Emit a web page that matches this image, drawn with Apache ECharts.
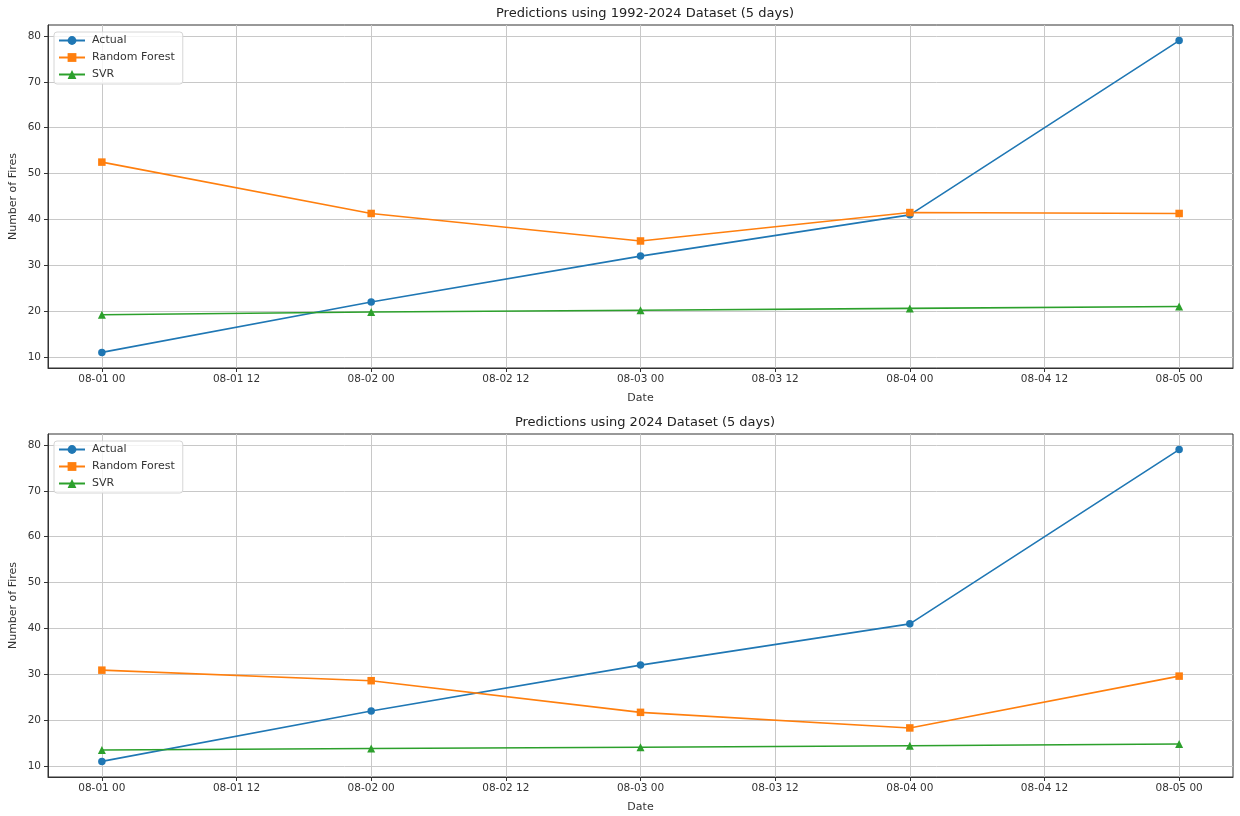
<!DOCTYPE html>
<html>
<head>
<meta charset="utf-8">
<script src="https://cdn.jsdelivr.net/npm/echarts@6/dist/echarts.min.js"></script>
<style>
  html, body { margin: 0; padding: 0; background: #fff; }
  #chart { width: 1240px; height: 816px; }
</style>
</head>
<body>
<div id="chart"></div>
<script>
// Daily fire counts, 1 to 5 August, and the two models' predictions
const dates = ['08-01', '08-02', '08-03', '08-04', '08-05'];
const actual = [11, 22, 32, 41, 79];
const rfFull = [52.5, 41.3, 35.3, 41.5, 41.3];
const svrFull = [19.2, 19.8, 20.2, 20.6, 21.0];
const rf2024 = [30.9, 28.6, 21.7, 18.3, 29.6];
const svr2024 = [13.5, 13.8, 14.1, 14.4, 14.8];
const xTickHours = [0, 12, 24, 36, 48, 60, 72, 84, 96];
const yTicks = [10, 20, 30, 40, 50, 60, 70, 80];
const titles = ['Predictions using 1992-2024 Dataset (5 days)', 'Predictions using 2024 Dataset (5 days)'];
const seriesNames = ['Actual', 'Random Forest', 'SVR'];

const colors = ['#1f77b4', '#ff7f0e', '#2ca02c'];
const symbols = ['circle', 'rect', 'triangle'];
const font = 'DejaVu Sans, sans-serif';

// x positions in hours after 08-01 00
const toPoints = vals => vals.map((v, i) => [i * 24, v]);
const pad2 = n => (n < 10 ? '0' : '') + n;
const hourLabel = h => dates[Math.floor(h / 24)] + ' ' + pad2(h % 24);

const panels = [
  { top: 25, data: [actual, rfFull, svrFull] },
  { top: 434, data: [actual, rf2024, svr2024] }
];
const plotHeight = 343;

const grid = [], xAxis = [], yAxis = [], series = [], title = [], legend = [];
panels.forEach((p, k) => {
  grid.push({
    left: 48, right: 7, top: p.top, height: plotHeight,
    outerBoundsMode: 'none', containLabel: false,
    show: true, borderColor: '#333', borderWidth: 1, backgroundColor: 'transparent'
  });
  title.push({
    text: titles[k], left: 640, textAlign: 'center', top: p.top - 23,
    textStyle: { fontFamily: font, fontSize: 13, fontWeight: 'normal', color: '#222' }
  });
  xAxis.push({
    type: 'value', gridIndex: k, min: -4.8, max: 100.8,
    name: 'Date', nameLocation: 'middle', nameGap: 25,
    nameTextStyle: { fontFamily: font, fontSize: 11, color: '#333' },
    axisLine: { show: true, onZero: false, lineStyle: { color: '#333', width: 1 } },
    axisTick: { show: true, length: 4, customValues: xTickHours, lineStyle: { color: '#333' } },
    axisLabel: {
      customValues: xTickHours, formatter: v => hourLabel(v),
      fontFamily: font, fontSize: 10.5, color: '#333', margin: 6
    },
    splitLine: { show: true, lineStyle: { color: '#c8c8c8', width: 1 } }
  });
  yAxis.push({
    type: 'value', gridIndex: k, min: 7.6, max: 82.4,
    name: 'Number of Fires', nameLocation: 'middle', nameGap: 29, nameMoveOverlap: false,
    nameTextStyle: { fontFamily: font, fontSize: 11, color: '#333' },
    axisLine: { show: true, onZero: false, lineStyle: { color: '#333', width: 1 } },
    axisTick: { show: true, length: 4, customValues: yTicks, lineStyle: { color: '#333' } },
    axisLabel: {
      customValues: yTicks, fontFamily: font, fontSize: 10.5, color: '#333', margin: 7
    },
    splitLine: { show: true, lineStyle: { color: '#c8c8c8', width: 1 } }
  });
  legend.push({
    orient: 'vertical', left: 54, top: p.top + 7,
    data: seriesNames,
    itemWidth: 26, itemHeight: 11, itemGap: 6,
    padding: [3, 8, 4, 4],
    backgroundColor: 'rgba(255,255,255,0.8)',
    borderColor: '#d6d6d6', borderWidth: 1, borderRadius: 3,
    textStyle: { fontFamily: font, fontSize: 11, color: '#333', padding: [0, 0, 0, 2] }
  });
  p.data.forEach((vals, j) => {
    series.push({
      name: seriesNames[j], type: 'line', xAxisIndex: k, yAxisIndex: k,
      data: toPoints(vals),
      symbol: symbols[j], symbolSize: j === 2 ? 8 : 7.5,
      showAllSymbol: true,
      itemStyle: { color: colors[j] },
      lineStyle: { color: colors[j], width: 1.6 },
      emphasis: { disabled: true },
      animation: false
    });
  });
});

const chart = echarts.init(document.getElementById('chart'), null, { renderer: 'canvas' });
chart.setOption({
  animation: false,
  backgroundColor: '#fff',
  title, grid, xAxis, yAxis, legend, series
});
</script>
</body>
</html>
